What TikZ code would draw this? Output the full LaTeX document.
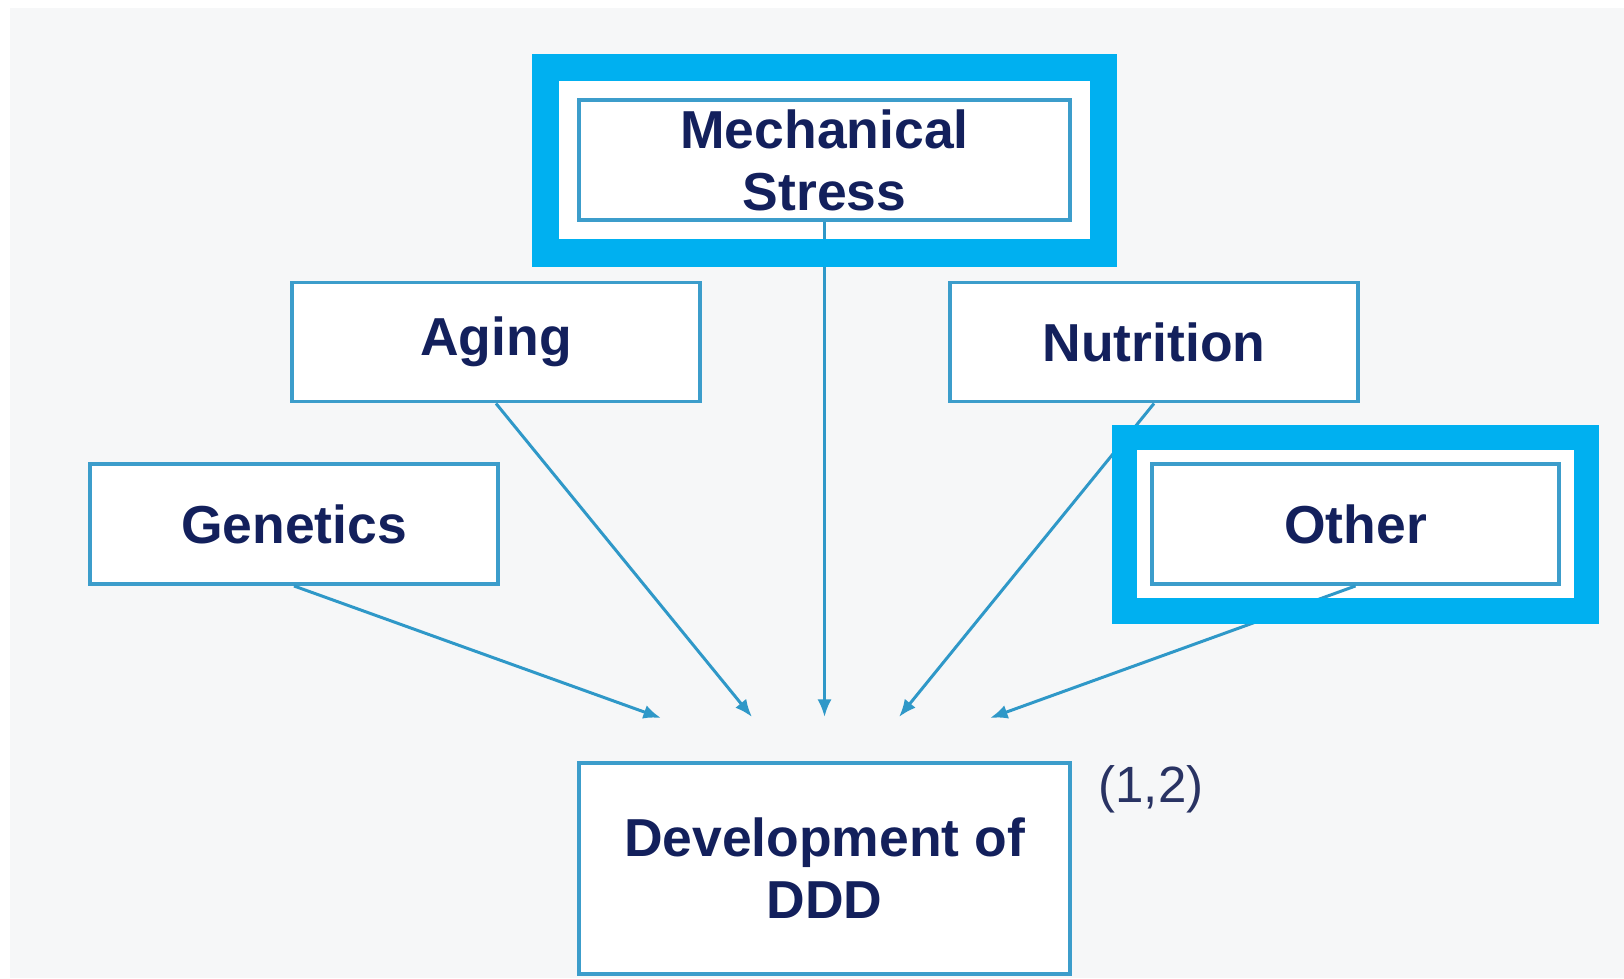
\documentclass[tikz,border=0pt]{standalone}
\usepackage{fontspec}
\setmainfont{Liberation Sans}
\usetikzlibrary{arrows.meta,fit,backgrounds}

\definecolor{pagebg}{HTML}{F6F7F8}
\definecolor{boxline}{HTML}{3C9DCB}
\definecolor{arrowline}{HTML}{2F98C8}
\definecolor{hlcyan}{HTML}{00B0F0}
\definecolor{labelnavy}{HTML}{13205C}

\tikzset{
  factor/.style={draw=boxline, line width=1.1pt, fill=white, text=labelnavy,
    font=\fontsize{15.2}{17.6}\selectfont\bfseries, align=center, inner sep=0pt,
    minimum width=4.07cm, minimum height=1.19cm},
  cause/.style={draw=arrowline, line width=0.85pt, -{Latex[length=5pt,width=4pt]}},
  highlight/.style={draw=hlcyan, line width=0.27cm, inner sep=0.31cm},
}

\begin{document}
\begin{tikzpicture}[x=0.01cm, y=-0.01cm]
    \useasboundingbox (0,0) rectangle (1624,978);
    \begin{scope}[on background layer]
        \fill[white] (0,0) rectangle (1624,978);
        \fill[pagebg] (10,8) rectangle (1624,978);
    \end{scope}

    % Factors
    \node[factor, minimum width=4.91cm, minimum height=1.2cm] (mech) at (824.5,160) {Mechanical\\Stress};
    \node[factor] (aging) at (496,342) {Aging};
    \node[factor] (nutri) at (1154,342) {Nutrition};
    \node[factor, minimum height=1.2cm] (gen) at (294,524) {Genetics};
    \node[factor, minimum height=1.2cm] (other) at (1355.5,524) {Other};

    % Outcome
    \node[factor, minimum width=4.91cm, minimum height=2.11cm] (dev) at (824.5,868.5) {Development of\\DDD};
    \node[text=labelnavy!80!gray, font=\fontsize{14.5}{16}\selectfont] (ref) at (1151,789) {(1,2)};

    % White space inside the frames
    \begin{scope}[on background layer]
        \node[fill=white, fit=(mech), inner sep=0.31cm] {};
        \node[fill=white, fit=(other), inner sep=0.255cm] {};
    \end{scope}

    % Arrows towards DDD
    \coordinate (gtip) at (661,718);
    \coordinate (atip) at (752,717);
    \coordinate (mtip) at (824.5,717);
    \coordinate (ntip) at (899,717);
    \coordinate (otip) at (990,718);
    \draw[cause] (gen.south) -- (gtip);
    \draw[cause] (aging.south) -- (atip);
    \draw[cause] (mech.south) -- (mtip);
    \draw[cause] (nutri.south) -- (ntip);
    \draw[cause] (other.south) -- (otip);

    % Frames on top
    \node[highlight, fit=(mech)] (mechframe) {};
    \node[highlight, line width=0.25cm, inner sep=0.25cm, fit=(other)] (otherframe) {};

\end{tikzpicture}
\end{document}
